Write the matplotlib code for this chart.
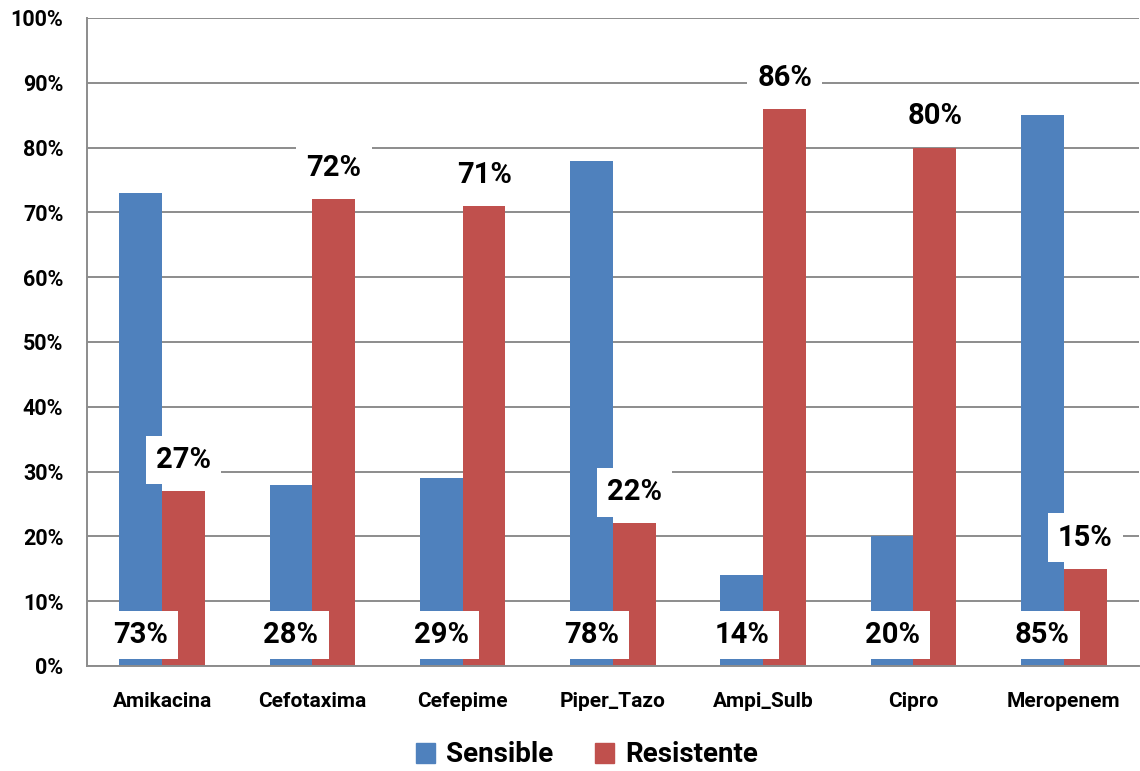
import matplotlib.pyplot as plt
from matplotlib.patches import Patch
import numpy as np

plt.rcParams['font.family'] = ['Roboto', 'DejaVu Sans']
plt.rcParams['font.weight'] = 'bold'

categories = ['Amikacina', 'Cefotaxima', 'Cefepime', 'Piper_Tazo', 'Ampi_Sulb', 'Cipro', 'Meropenem']
sensible = [73, 28, 29, 78, 14, 20, 85]
resistente = [27, 72, 71, 22, 86, 80, 15]
yticks = [0, 10, 20, 30, 40, 50, 60, 70, 80, 90, 100]

blue = '#4F81BD'
red = '#C0504D'
grid_col = '#8c8c8c'

fig = plt.figure(figsize=(11.4, 7.71), dpi=100)
ax = fig.add_axes([0.0763, 0.1362, 0.9227, 0.8405])

x = np.arange(len(categories))
w = 0.285
ax.bar(x - w / 2, sensible, w, color=blue, zorder=2)
ax.bar(x + w / 2, resistente, w, color=red, zorder=2)

box = dict(boxstyle='square,pad=0.35', fc='white', ec='none')
for i in range(len(categories)):
    # blue labels sit near the bottom, red ones just above the bar
    ax.text(x[i] - w / 2, 4.8, f'{sensible[i]}%', ha='center', va='center',
            fontsize=21, fontweight='bold', bbox=box, zorder=3)
    ax.text(x[i] + w / 2, resistente[i] + 4.8, f'{resistente[i]}%', ha='center', va='center',
            fontsize=21, fontweight='bold', bbox=box, zorder=3)

ax.set_xlim(-0.5, len(categories) - 0.5)
ax.set_ylim(0, 100)
ax.set_yticks(yticks)
ax.set_yticklabels([f'{v}%' for v in yticks], fontsize=15.5, fontweight='bold')
ax.set_xticks(x)
ax.set_xticklabels(categories, fontsize=15, fontweight='bold')
ax.tick_params(axis='y', length=0, pad=17)
ax.tick_params(axis='x', length=0, pad=19)

ax.yaxis.grid(True, color=grid_col, lw=1.4, zorder=1)
ax.set_axisbelow(True)
for s in ['top', 'right']:
    ax.spines[s].set_visible(False)
for s in ['left', 'bottom']:
    ax.spines[s].set_color(grid_col)
    ax.spines[s].set_linewidth(1.4)

handles = [Patch(color=blue, label='Sensible'), Patch(color=red, label='Resistente')]
fig.legend(handles=handles, loc='center', bbox_to_anchor=(587 / 1140, 1 - 755 / 771),
           ncol=2, frameon=False, prop={'size': 20, 'weight': 'bold'},
           handlelength=0.7, handleheight=0.7, handletextpad=0.4, columnspacing=1.5)

fig.savefig('out.png', dpi=100)
